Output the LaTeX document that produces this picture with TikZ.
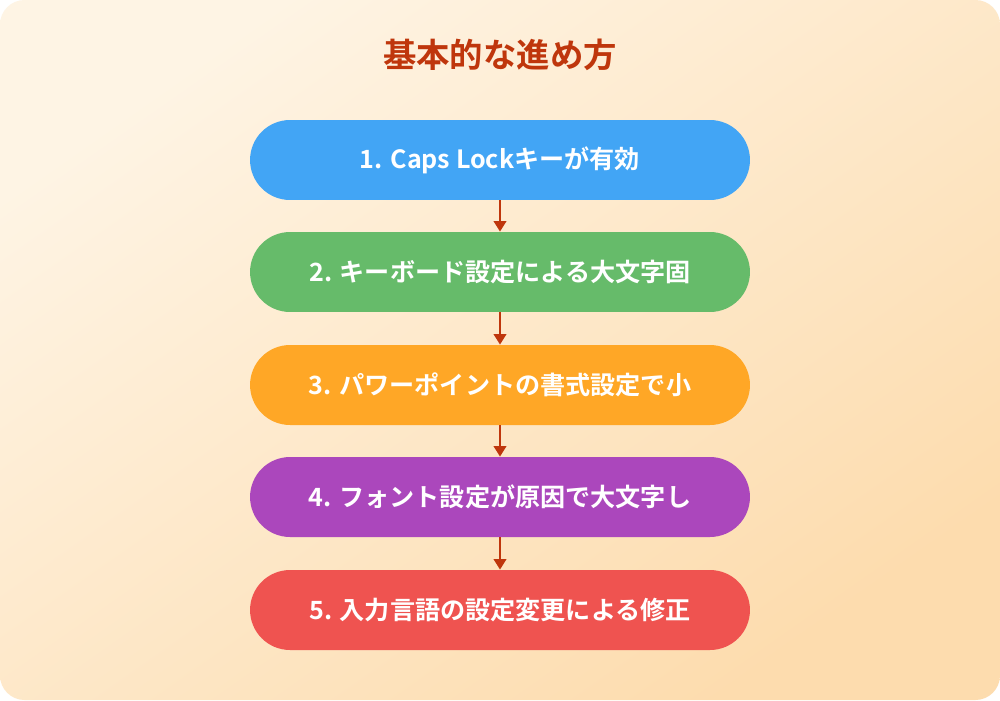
\documentclass[tikz,border=0pt]{standalone}
\usepackage{fontspec}
\usetikzlibrary{shapes.misc,arrows.meta}
\setmainfont{Noto Sans CJK JP}[BoldFont={* Bold}]
\definecolor{bgA}{HTML}{FEF4E4}
\definecolor{bgB}{HTML}{FDDCAE}
\definecolor{c1}{HTML}{42A5F5}
\definecolor{c2}{HTML}{66BB6A}
\definecolor{c3}{HTML}{FFA726}
\definecolor{c4}{HTML}{AB47BC}
\definecolor{c5}{HTML}{EF5350}
\definecolor{ar}{HTML}{BF360C}
\begin{document}
\begin{tikzpicture}[x=0.02cm,y=-0.02cm,
  stepbox/.style={rounded rectangle, minimum width=10cm, minimum height=1.6cm, text=white, font=\bfseries\fontsize{14.3pt}{16pt}\selectfont, inner sep=0pt},
  conn/.style={draw=ar, line width=1.6pt, -{Triangle[length=6pt,width=7pt]}}]
\useasboundingbox (0,0) rectangle (1000,700);
\fill[white] (0,0) rectangle (1000,700);
\shade[rounded corners=14pt, left color=bgA, right color=bgB, shading angle=35] (0,0) rectangle (1000,700);
\node[text=ar, font=\bfseries\fontsize{19pt}{22pt}\selectfont] (t) at (500,55) {基本的な進め方};
\node[stepbox, fill=c1] (b1) at (500,160) {1. Caps Lockキーが有効};
\node[stepbox, fill=c2] (b2) at (500,272) {2. キーボード設定による大文字固};
\node[stepbox, fill=c3] (b3) at (500,385) {3. パワーポイントの書式設定で小};
\node[stepbox, fill=c4] (b4) at (500,497) {4. フォント設定が原因で大文字し};
\node[stepbox, fill=c5] (b5) at (500,610) {5. 入力言語の設定変更による修正};
\foreach \a/\b in {b1/b2,b2/b3,b3/b4,b4/b5}
  \draw[conn] (\a.south) -- (\b.north);
\end{tikzpicture}
\end{document}
